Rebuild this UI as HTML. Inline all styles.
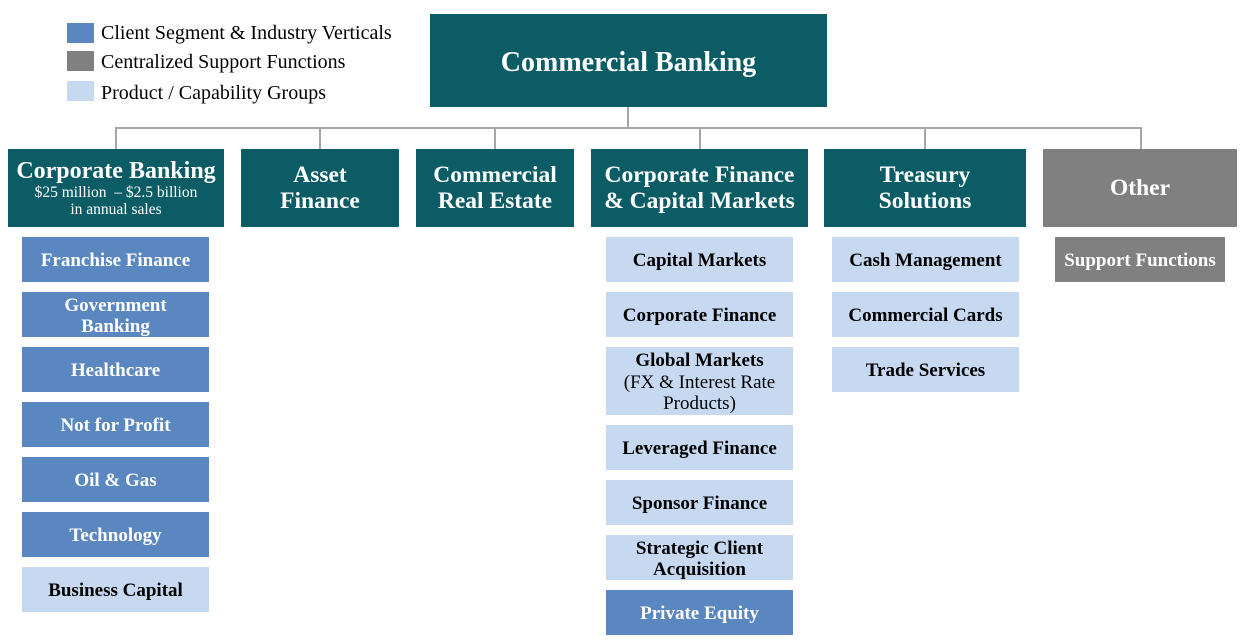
<!DOCTYPE html>
<html><head><meta charset="utf-8"><style>
body{margin:0;width:1243px;height:644px;background:#fff;position:relative;overflow:hidden;font-family:"Liberation Serif",serif}
.b{position:absolute;display:flex;align-items:center;justify-content:center;text-align:center;font-weight:bold;box-sizing:border-box;white-space:nowrap}
.t{background:#0b5c64;color:#fff;font-size:23.5px;line-height:26px}
.s{background:#5b87c1;color:#fff;font-size:19px;line-height:21.5px;padding-top:3px}
.l{background:#c6d9f1;color:#000;font-size:19px;line-height:21.5px;padding-top:3px}
.g{background:#808080;color:#fff}
.ln{position:absolute;background:#a6a6a6}
.lg{position:absolute;left:67px;width:27px;height:20px}
.lt{position:absolute;left:101px;font-size:20px;color:#000}
</style></head><body>
<div class="lg" style="top:23px;background:#5b87c1"></div><div class="lt" style="top:22px">Client Segment &amp; Industry Verticals</div>
<div class="lg" style="top:51px;background:#808080"></div><div class="lt" style="top:51px">Centralized Support Functions</div>
<div class="lg" style="top:81px;background:#c6d9f1"></div><div class="lt" style="top:82px">Product / Capability Groups</div>

<div class="ln" style="left:627px;top:107px;width:2px;height:22px"></div>
<div class="ln" style="left:115px;top:127px;width:1027px;height:2px"></div>
<div class="ln" style="left:115px;top:127px;width:2px;height:22px"></div>
<div class="ln" style="left:319px;top:127px;width:2px;height:22px"></div>
<div class="ln" style="left:494px;top:127px;width:2px;height:22px"></div>
<div class="ln" style="left:699px;top:127px;width:2px;height:22px"></div>
<div class="ln" style="left:924px;top:127px;width:2px;height:22px"></div>
<div class="ln" style="left:1140px;top:127px;width:2px;height:22px"></div>

<div class="b t" style="left:430px;top:14px;width:397px;height:93px;font-size:28px;padding-top:4px">Commercial Banking</div>

<div class="b t" style="left:8px;top:149px;width:216px;height:78px;flex-direction:column;line-height:normal"><div style="font-size:24px;line-height:25px">Corporate Banking</div><div style="font-size:15.5px;font-weight:normal;line-height:17px">$25 million &nbsp;– $2.5 billion<br>in annual sales</div></div>
<div class="b t" style="left:241px;top:149px;width:158px;height:78px">Asset<br>Finance</div>
<div class="b t" style="left:416px;top:149px;width:158px;height:78px">Commercial<br>Real Estate</div>
<div class="b t" style="left:591px;top:149px;width:217px;height:78px">Corporate Finance<br>&amp; Capital Markets</div>
<div class="b t" style="left:824px;top:149px;width:202px;height:78px">Treasury<br>Solutions</div>
<div class="b t g" style="left:1043px;top:149px;width:194px;height:78px">Other</div>

<div class="b s" style="left:22px;top:237px;width:187px;height:45px">Franchise Finance</div>
<div class="b s" style="left:22px;top:292px;width:187px;height:45px">Government<br>Banking</div>
<div class="b s" style="left:22px;top:347px;width:187px;height:45px">Healthcare</div>
<div class="b s" style="left:22px;top:402px;width:187px;height:45px">Not for Profit</div>
<div class="b s" style="left:22px;top:457px;width:187px;height:45px">Oil &amp; Gas</div>
<div class="b s" style="left:22px;top:512px;width:187px;height:45px">Technology</div>
<div class="b l" style="left:22px;top:567px;width:187px;height:45px">Business Capital</div>

<div class="b l" style="left:606px;top:237px;width:187px;height:45px">Capital Markets</div>
<div class="b l" style="left:606px;top:292px;width:187px;height:45px">Corporate Finance</div>
<div class="b l" style="left:606px;top:347px;width:187px;height:68px;flex-direction:column"><div>Global Markets</div><div style="font-weight:normal">(FX &amp; Interest Rate<br>Products)</div></div>
<div class="b l" style="left:606px;top:425px;width:187px;height:45px">Leveraged Finance</div>
<div class="b l" style="left:606px;top:480px;width:187px;height:45px">Sponsor Finance</div>
<div class="b l" style="left:606px;top:535px;width:187px;height:45px">Strategic Client<br>Acquisition</div>
<div class="b s" style="left:606px;top:590px;width:187px;height:45px">Private Equity</div>

<div class="b l" style="left:832px;top:237px;width:187px;height:45px">Cash Management</div>
<div class="b l" style="left:832px;top:292px;width:187px;height:45px">Commercial Cards</div>
<div class="b l" style="left:832px;top:347px;width:187px;height:45px">Trade Services</div>

<div class="b s g" style="left:1055px;top:237px;width:170px;height:45px">Support Functions</div>
</body></html>
